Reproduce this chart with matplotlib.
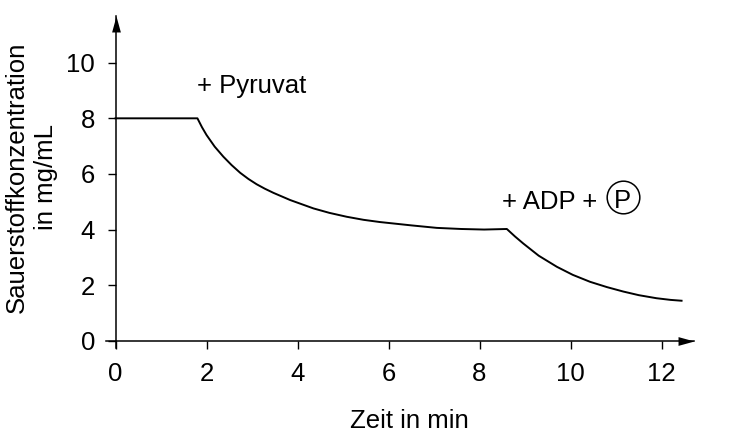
import matplotlib
matplotlib.use("Agg")
import matplotlib.pyplot as plt
from matplotlib.path import Path

plt.rcParams['font.family'] = ['Liberation Sans', 'DejaVu Sans']

# Data
zeit = [0, 1.8, 1.9, 2.0, 2.18, 2.37, 2.55, 2.74, 2.92, 3.10, 3.28, 3.47, 3.84,
        4.35, 4.7, 5.08, 5.45, 5.81, 6.5, 7.06, 7.6, 8.1, 8.6, 8.78, 8.96, 9.3,
        9.7, 10.05, 10.43, 10.8, 11.16, 11.5, 11.89, 12.2, 12.44]
sauerstoff = [8.0, 8.0, 7.68, 7.40, 6.98, 6.62, 6.32, 6.04, 5.82, 5.63, 5.47, 5.32, 5.06,
              4.76, 4.6, 4.46, 4.35, 4.27, 4.15, 4.06, 4.02, 4.0, 4.02, 3.75, 3.5, 3.06,
              2.66, 2.37, 2.12, 1.93, 1.77, 1.64, 1.53, 1.47, 1.44]
x_ticks = [0, 2, 4, 6, 8, 10, 12]
y_ticks = [0, 2, 4, 6, 8, 10]
xlabel = "Zeit in min"
ylabel = "Sauerstoffkonzentration\nin mg/mL"
note1 = "+ Pyruvat"
note2 = "+ ADP +"
note2_circ = "P"

FS = 18.5

fig = plt.figure(figsize=(7.33, 4.42), dpi=100)
ax = fig.add_axes([0.1452, 0.2133, 0.8020, 0.7505])

ax.plot(zeit, sauerstoff, color='black', lw=1.4, solid_joinstyle='round', clip_on=False)

ax.set_xlim(-0.2, 12.72)
ax.set_ylim(-0.25, 11.68)
ax.spines['left'].set_position(('data', 0))
ax.spines['bottom'].set_position(('data', 0))
ax.spines['top'].set_visible(False)
ax.spines['right'].set_visible(False)
for s in ('left', 'bottom'):
    ax.spines[s].set_linewidth(1.1)

ax.set_xticks(x_ticks)
ax.set_yticks(y_ticks)
ax.tick_params(direction='out', length=5.8, width=1, labelsize=FS)
ax.tick_params(axis='x', pad=9.5)
ax.tick_params(axis='y', pad=9.0)

# arrow heads (tip at the end of each axis)
right_head = Path([(0, 0), (-2, 0.55), (-2, -0.55), (0, 0)],
                  [Path.MOVETO, Path.LINETO, Path.LINETO, Path.CLOSEPOLY])
up_head = Path([(0, 0), (0.55, -2), (-0.55, -2), (0, 0)],
               [Path.MOVETO, Path.LINETO, Path.LINETO, Path.CLOSEPOLY])
ax.plot(1, 0, marker=right_head, ms=23, color='black', mew=0,
        transform=ax.get_yaxis_transform(), clip_on=False)
ax.plot(0, 1, marker=up_head, ms=23, color='black', mew=0,
        transform=ax.get_xaxis_transform(), clip_on=False)

fig.text(0.558, 0.0317, xlabel, ha='center', va='baseline', fontsize=FS)
fig.text(0.043, 0.5995, ylabel, ha='center', va='center', rotation=90, fontsize=FS,
         linespacing=1.25)

ax.text(1.80, 8.92, note1, ha='left', va='baseline', fontsize=FS)
ax.text(8.49, 4.73, note2, ha='left', va='baseline', fontsize=FS)
ax.text(11.15, 4.76, note2_circ, ha='center', va='baseline', fontsize=FS)
ax.plot(11.15, 5.17, marker='o', ms=23.5, mfc='none', mec='black', mew=1.1,
        clip_on=False)

fig.savefig('out.png', dpi=100)
